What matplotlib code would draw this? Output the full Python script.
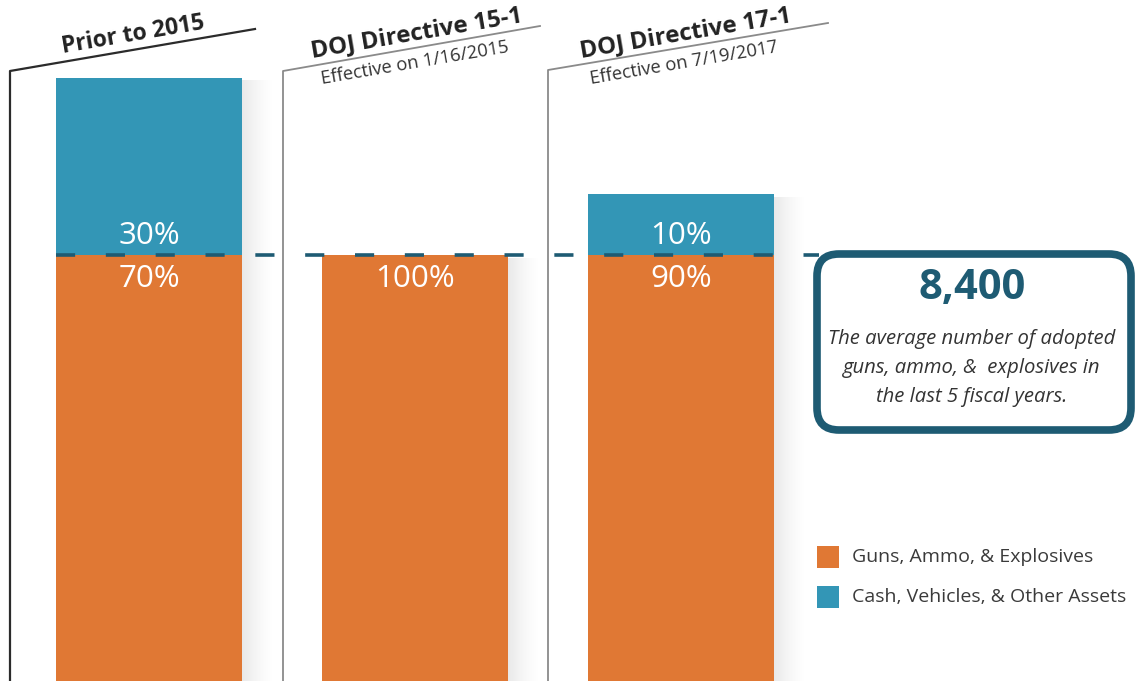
import numpy as np
import matplotlib
matplotlib.use("Agg")
import matplotlib.pyplot as plt
from matplotlib.lines import Line2D
from matplotlib.patches import FancyBboxPatch, Rectangle
from matplotlib.transforms import Affine2D

# segment heights (orange level = the 8,400 dashed line)
periods = ["Prior to 2015", "DOJ Directive 15-1", "DOJ Directive 17-1"]
subtitles = ["", "Effective on 1/16/2015", "Effective on 7/19/2017"]
guns = [8400, 8400, 8400]
other = [3500, 0, 1200]
guns_pct = ["70%", "100%", "90%"]
other_pct = ["30%", "", "10%"]
avg_guns = 8400
callout_value = "8,400"
callout_text = "The average number of adopted\nguns, ammo, &  explosives in\nthe last 5 fiscal years."
legend_labels = ["Guns, Ammo, & Explosives", "Cash, Vehicles, & Other Assets"]

ORANGE = "#E07834"
BLUE = "#3396B6"
TEAL = "#1E5B73"
TEXT = "#333333"
FONT = "Open Sans"

W, H = 1138, 681
fig = plt.figure(figsize=(W / 100, H / 100), dpi=100)
# pixel coordinates (origin top-left) for the decorations
px = Affine2D().scale(1 / W, -1 / H).translate(0, 1) + fig.transFigure

ax = fig.add_axes([0, 0, 1, 1])
ax.set_xlim(-149 / 266, (W - 149) / 266)
ax.set_ylim(0, 13430)
ax.axis("off")

x = np.arange(len(periods))
bw = 0.7

# soft shadow at the right of each bar
grad = (np.linspace(1, 0, 40) ** 1.5 * 0.09).reshape(1, -1)
for i in x:
    top = guns[i] + other[i]
    ax.imshow(np.dstack([np.zeros_like(grad)] * 3 + [grad]), aspect="auto",
              extent=(i + bw / 2, i + bw / 2 + 0.13, 0, top - 60),
              interpolation="bilinear", zorder=1)

ax.bar(x, guns, width=bw, color=ORANGE, zorder=2)
ax.bar(x, other, width=bw, bottom=guns, color=BLUE, zorder=2)

for i in x:
    ax.text(i, guns[i] - 470, guns_pct[i], ha="center", va="center",
            color="white", fontsize=22.5, family=FONT, zorder=4)
    if other[i]:
        ax.text(i, guns[i] + 380, other_pct[i], ha="center", va="center",
                color="white", fontsize=22.5, family=FONT, zorder=4)

# dashed average line
ax.plot([-bw / 2, 2.52], [avg_guns, avg_guns], color=TEAL, lw=2.6,
        dashes=(5.3, 8.5), zorder=3, solid_capstyle="butt")

# panel frames with slanted headers
frames = [(10, 71, 255, 29, "#2b2b2b", 1.6),
          (283, 71, 540, 26, "#8a8a8a", 1.3),
          (548, 70, 828, 23, "#8a8a8a", 1.3)]
centers = [133, 417, 686]
angle = 9.7
for i, (x0, y0, x1, y1, col, lw) in enumerate(frames):
    fig.add_artist(Line2D([x0, x0, x1], [H, y0, y1], color=col, lw=lw,
                          transform=px))
    cx = centers[i]
    fig.text(cx, 35 if i == 0 else 33, periods[i], transform=px,
             rotation=angle, rotation_mode="anchor", ha="center", va="center",
             fontsize=16.5 if i == 0 else 17.3, fontweight="bold",
             color="#222222", family=FONT)
    if subtitles[i]:
        fig.text(cx - 2, 63, subtitles[i], transform=px, rotation=angle,
                 rotation_mode="anchor", ha="center", va="center",
                 fontsize=13.2, color=TEXT, family=FONT)

# callout box
fig.add_artist(FancyBboxPatch((817, 254), 314, 176, transform=px,
                              boxstyle="round,pad=0,rounding_size=22",
                              fc="white", ec=TEAL, lw=5.5))
fig.text(972, 289, callout_value, transform=px, ha="center", va="center",
         fontsize=30, fontweight="bold", color=TEAL, family=FONT)
fig.text(972, 368, callout_text, transform=px, ha="center", va="center",
         fontsize=14.6, style="italic", color=TEXT, family=FONT,
         linespacing=1.6)

# legend
for j, (lab, col) in enumerate(zip(legend_labels, [ORANGE, BLUE])):
    yc = 557 + 40 * j
    fig.add_artist(Rectangle((817, yc - 11), 22, 22, transform=px, fc=col,
                             ec="none"))
    fig.text(852, yc, lab, transform=px, ha="left", va="center",
             fontsize=14.0, color="#3a3a3a", family=FONT)

fig.savefig("out.png", dpi=100)
